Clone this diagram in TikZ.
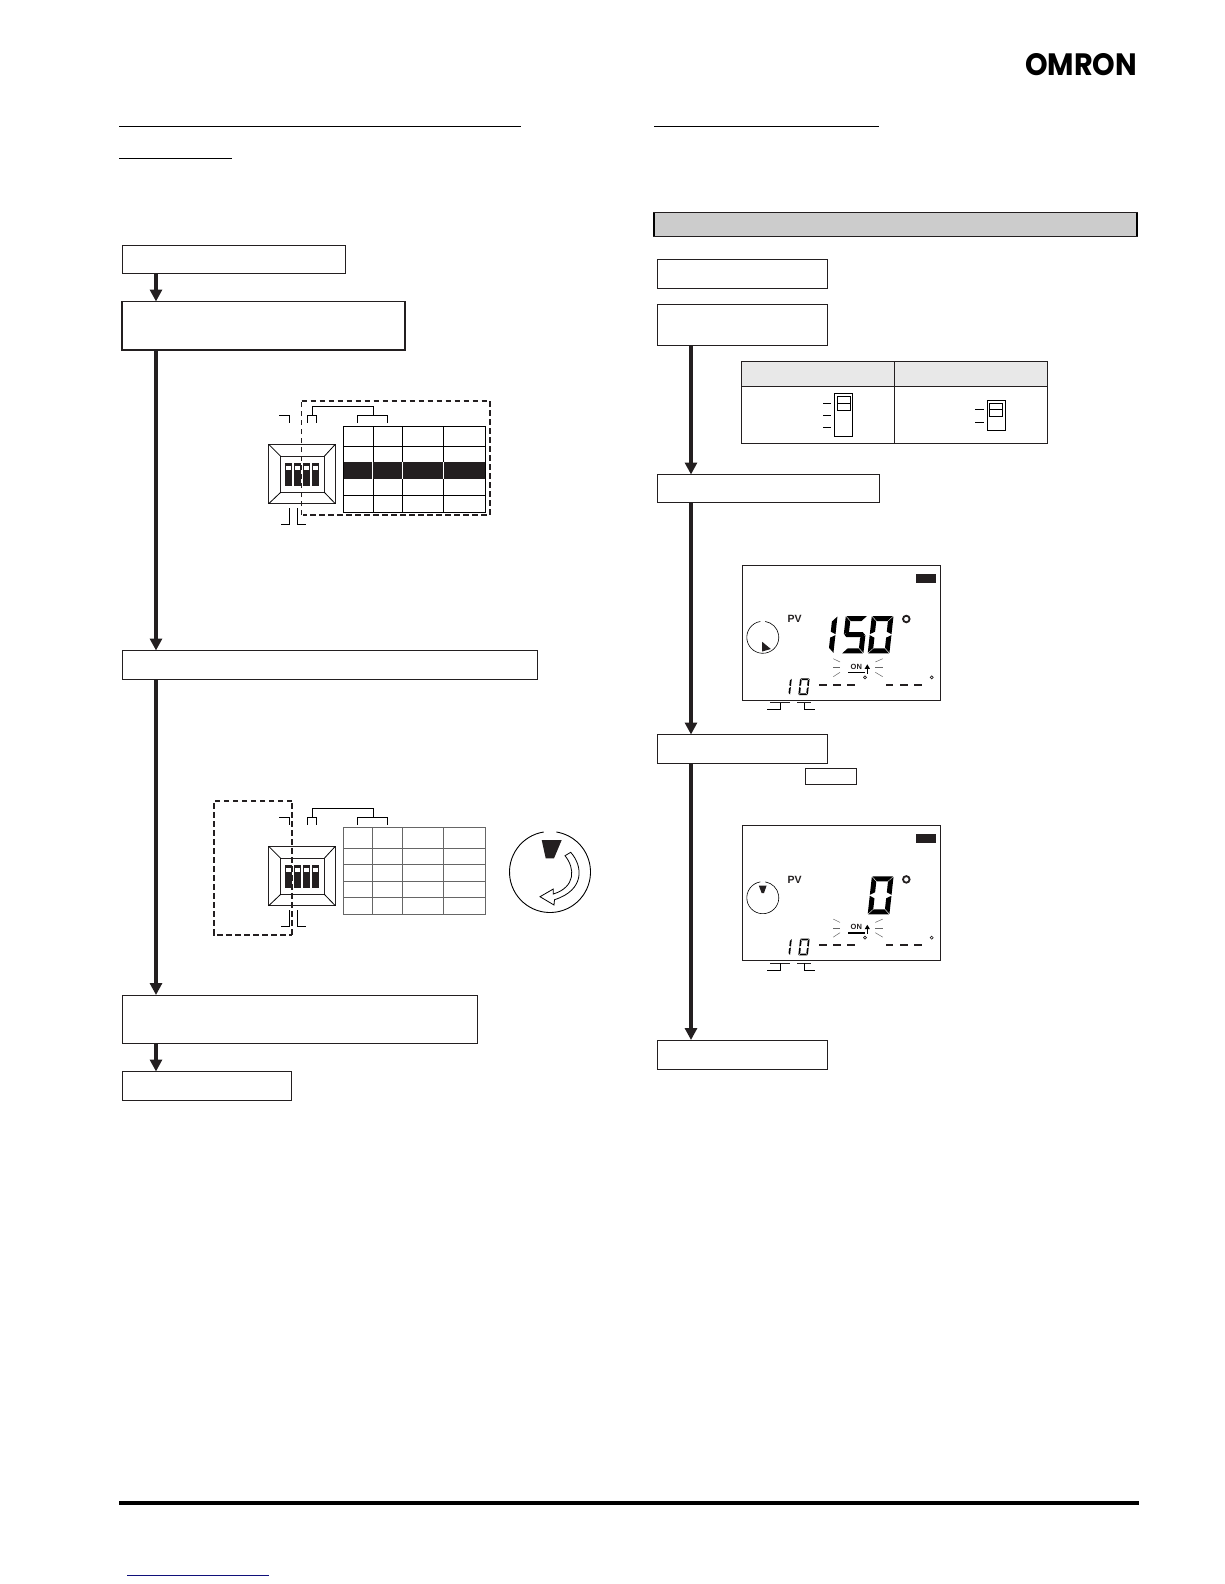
\documentclass[tikz,border=0pt]{standalone}
\usepackage{fontspec}
\setmainfont{Liberation Sans}
\newfontfamily\logofont{Poppins}
\usetikzlibrary{arrows.meta}
\definecolor{inkblack}{HTML}{231F20}
\definecolor{barfill}{HTML}{CCCCCC}
\definecolor{headfill}{HTML}{E8E8E8}
\definecolor{gridgray}{HTML}{666666}
\definecolor{linkblue}{HTML}{10107A}

% one slanted seven-segment digit: x, bottom y, width, height, thickness, segments
\newcommand{\lcdsega}{\fill (\lcdg,-\lcdh) -- (\lcdw-\lcdg,-\lcdh) -- (\lcdw-\lcdg-\lcdt,-\lcdh+\lcdt) -- (\lcdg+\lcdt,-\lcdh+\lcdt) -- cycle;}
\newcommand{\lcdsegb}{\fill (\lcdw,-\lcdh+\lcdg) -- (\lcdw,-\lcdm-\lcdg) -- (\lcdw-\lcdt,-\lcdm-\lcdg-\lcdt/2) -- (\lcdw-\lcdt,-\lcdh+\lcdg+\lcdt) -- cycle;}
\newcommand{\lcdsegc}{\fill (\lcdw,-\lcdg) -- (\lcdw,-\lcdm+\lcdg) -- (\lcdw-\lcdt,-\lcdm+\lcdg+\lcdt/2) -- (\lcdw-\lcdt,-\lcdg-\lcdt) -- cycle;}
\newcommand{\lcdsegd}{\fill (\lcdg,0) -- (\lcdw-\lcdg,0) -- (\lcdw-\lcdg-\lcdt,-\lcdt) -- (\lcdg+\lcdt,-\lcdt) -- cycle;}
\newcommand{\lcdsege}{\fill (0,-\lcdg) -- (0,-\lcdm+\lcdg) -- (\lcdt,-\lcdm+\lcdg+\lcdt/2) -- (\lcdt,-\lcdg-\lcdt) -- cycle;}
\newcommand{\lcdsegf}{\fill (0,-\lcdh+\lcdg) -- (0,-\lcdm-\lcdg) -- (\lcdt,-\lcdm-\lcdg-\lcdt/2) -- (\lcdt,-\lcdh+\lcdg+\lcdt) -- cycle;}
\newcommand{\lcdsegg}{\fill (\lcdg,-\lcdm) -- (\lcdg+\lcdt/2,-\lcdm-\lcdt/2) -- (\lcdw-\lcdg-\lcdt/2,-\lcdm-\lcdt/2) -- (\lcdw-\lcdg,-\lcdm) -- (\lcdw-\lcdg-\lcdt/2,-\lcdm+\lcdt/2) -- (\lcdg+\lcdt/2,-\lcdm+\lcdt/2) -- cycle;}
\newcommand{\lcddigit}[6]{%
  \begin{scope}[shift={(#1,#2)}, xslant=0.11]
    \def\lcdw{#3}\def\lcdh{#4}\def\lcdt{#5}\def\lcdg{0.5}
    \pgfmathsetmacro{\lcdm}{#4/2}
    \foreach \seg in {#6} {\csname lcdseg\seg\endcsname}
  \end{scope}}

\begin{document}
\begin{tikzpicture}[
  x=1pt, y=-1pt,
  stepbox/.style={rectangle, draw=inkblack, line width=1pt, inner sep=0pt, outer sep=0pt, anchor=north west},
  heavybox/.style={stepbox, line width=1.6pt},
  arrow/.style={-{Triangle[length=12pt,width=12pt]}, draw=inkblack, line width=4pt},
  rulebar/.style={draw=black, line width=1pt},
  lead/.style={draw=black, line width=0.8pt},
  dashframe/.style={draw=inkblack, line width=1.8pt, dash pattern=on 5.5pt off 3.5pt},
  thinframe/.style={draw=inkblack, line width=1pt, dash pattern=on 5.5pt off 3.5pt},
  grid/.style={draw=black, line width=0.8pt},
  panel/.style={draw=inkblack, line width=0.9pt},
  flash/.style={draw=gridgray, line width=0.5pt}
]
\useasboundingbox (0,0) rectangle (1224,1584);

% Logo and page rules
\node[inner sep=0pt, text=black] (logo) at (1081,65) {\resizebox{112pt}{22pt}{\logofont\bfseries OMRON}};
\draw[rulebar] (119,126.5) -- (521,126.5);
\draw[rulebar] (119,158.5) -- (232,158.5);
\draw[rulebar] (654,126.5) -- (879,126.5);
\draw[draw=black, line width=4pt] (119,1503) -- (1139,1503);
\draw[draw=linkblue, line width=1pt] (127,1575) -- (269,1575);

% Left column
\coordinate (spine_l) at (156,0);
\node[stepbox, minimum width=223.5pt, minimum height=28.5pt] (step_l1) at (122,245) {};
\node[heavybox, minimum width=283pt, minimum height=48.5pt] (step_l2) at (122,301.5) {};
\node[stepbox, minimum width=415pt, minimum height=29pt] (step_l3) at (122,650.5) {};
\node[stepbox, minimum width=355.5pt, minimum height=48pt] (step_l4) at (122,995) {};
\node[stepbox, minimum width=169pt, minimum height=28.5pt] (step_l5) at (122,1071.5) {};

\draw[arrow] (spine_l |- step_l1.south) -- (spine_l |- step_l2.north);
\draw[arrow] (spine_l |- step_l2.south) -- (spine_l |- step_l3.north);
\draw[arrow] (spine_l |- step_l3.south) -- (spine_l |- step_l4.north);
\draw[arrow] (spine_l |- step_l4.south) -- (spine_l |- step_l5.north);

% Right column
\coordinate (spine_r) at (691,0);
\node[stepbox, fill=barfill, minimum width=483.5pt, minimum height=23.5pt] (title_bar) at (653.5,212.5) {};
\draw[draw=black, line width=2pt] (title_bar.north west) -- (title_bar.south west);
\draw[draw=black, line width=2pt] (title_bar.north east) -- (title_bar.south east);
\node[stepbox, minimum width=170pt, minimum height=29pt] (step_r1) at (657,259.5) {};
\node[stepbox, minimum width=170pt, minimum height=41pt] (step_r2) at (657,304.5) {};
\node[stepbox, minimum width=222pt, minimum height=28pt] (step_r3) at (657,474.5) {};
\node[stepbox, minimum width=170pt, minimum height=29pt] (step_r4) at (657,734.5) {};
\node[stepbox, minimum width=170pt, minimum height=29pt] (step_r5) at (657,1040) {};
\node[stepbox, line width=0.9pt, minimum width=51.5pt, minimum height=16pt] (key_box) at (805,768) {};

\draw[arrow] (spine_r |- step_r2.south) -- (spine_r |- step_r3.north);
\draw[arrow] (spine_r |- step_r3.south) -- (spine_r |- step_r4.north);
\draw[arrow] (spine_r |- step_r4.south) -- (spine_r |- step_r5.north);

% Switch comparison table
\fill[headfill] (741.7,361.7) rectangle (1047,386);
\draw[panel] (741.7,361.7) rectangle (1047,443);
\draw[panel] (741.7,386) -- (1047,386);
\draw[panel] (894,361.7) -- (894,443);
\draw[draw=inkblack, line width=1.4pt] (741.7,361.7) -- (741.7,443);
\draw[lead] (834.3,393.3) rectangle (852.3,436.3);
\draw[lead] (837.3,396.7) rectangle (850.7,410.7);
\draw[lead] (837.3,403.3) -- (850.7,403.3);
\foreach \ty in {403.3,415.3,427.3} {\draw[lead] (823,\ty) -- (831,\ty);}
\draw[lead] (987.3,400.3) rectangle (1005.7,430.7);
\draw[lead] (989.3,403.3) rectangle (1002.7,416.7);
\draw[lead] (989.3,409.3) -- (1002.7,409.3);
\foreach \ty in {409.3,422.3} {\draw[lead] (975,\ty) -- (984.3,\ty);}

% DIP switches with their leads
\foreach \yo in {0,402} {
\begin{scope}[shift={(0,\yo)}]
  \draw[panel] (268.7,444.3) rectangle (335.3,503.7);
  \draw[panel] (280.7,456.3) rectangle (324.3,492.3);
  \draw[lead] (268.7,444.3) -- (280.7,456.3);
  \draw[lead] (335.3,444.3) -- (324.3,456.3);
  \draw[lead] (268.7,503.7) -- (280.7,492.3);
  \draw[lead] (335.3,503.7) -- (324.3,492.3);
  \foreach \sw in {285.3,294,303.3,312} {
    \fill[inkblack] (\sw,463) rectangle ++(6.8,23);
    \fill[white] (\sw+1,466) rectangle ++(4.8,4);
  }
  \draw[lead] (279.3,415.5) -- (289.7,415.5) -- (289.7,422.7);
  \draw[lead] (307.3,422.7) -- (307.3,415.5) -- (316.3,415.5) -- (316.3,422.7);
  \draw[lead] (312,415.5) -- (312,406.5) -- (373.5,406.5) -- (373.5,415.5);
  \draw[lead] (357.3,422.7) -- (357.3,415.5) -- (387.3,415.5) -- (387.3,422.7);
  \draw[lead] (289.5,508.3) -- (289.5,524.3) -- (281,524.3);
  \draw[lead] (297.3,508.3) -- (297.3,524.3) -- (305.7,524.3);
\end{scope}
}

% Upper table with dashed frame
\fill[inkblack] (343.7,462) rectangle (485.3,479.3);
\foreach \gx in {372.5,402.3,443.3} {\draw[draw=white, line width=0.6pt] (\gx,462) -- (\gx,479.3);}
\draw[grid] (343.7,426) rectangle (485.3,512.3);
\foreach \gy in {446.3,495.3} {\draw[grid] (343.7,\gy) -- (485.3,\gy);}
\foreach \gx in {373.3,402.3,443.3} {
  \draw[grid] (\gx,426) -- (\gx,462);
  \draw[grid] (\gx,479.3) -- (\gx,512.3);
}
\draw[thinframe] (301.7,515) -- (301.7,400.7);
\draw[dashframe] (301.7,400.7) -- (490,400.7) -- (490,515) -- (303,515);

% Lower table with dashed frame
\draw[draw=gridgray, line width=0.8pt] (343.3,827.7) rectangle (485.3,914);
\foreach \gy in {848.3,864.3,881,897.3} {\draw[draw=gridgray, line width=0.8pt] (343.3,\gy) -- (485.3,\gy);}
\foreach \gx in {372.7,402,443.7} {\draw[draw=gridgray, line width=0.8pt] (\gx,827.7) -- (\gx,914);}
\draw[dashframe] (292,800.7) -- (213.7,800.7) -- (213.7,934.7) -- (292,934.7);
\draw[thinframe, line width=1.4pt] (292,934.7) -- (292,800.7);

% Rotary dial
\draw[draw=black, line width=0.9pt] (550,872) ++(99:40.5pt) arc[start angle=99, end angle=441, radius=40.5pt];
\fill[inkblack] (541.7,840) -- (561.7,840) -- (554,858.3) -- (545.7,858.3) -- cycle;
\draw[draw=black, line width=0.8pt, fill=white] (565,855.7) -- (570.7,852.3)
  .. controls (583,866) and (585,890) .. (554.5,899.7)
  -- (554,905) -- (540,896.7) -- (553.3,889) -- (553.3,894)
  .. controls (576,887) and (575,868) .. (565,855.7) -- cycle;

% LCD panels, shared parts
\foreach \yo in {0,260.4} {
\begin{scope}[shift={(0,\yo)}]
  \draw[panel] (742.7,565.3) rectangle (940.7,700.3);
  \fill[inkblack] (916,574) rectangle (936,583);
  \node[inner sep=0pt, font=\bfseries\fontsize{10.5}{10.5}\selectfont, text=inkblack] (pv_label) at (794.7,619) {PV};
  \draw[draw=black, line width=0.6pt] (762.8,637.3) ++(99:16pt) arc[start angle=99, end angle=441, radius=16pt];
  \draw[draw=inkblack, line width=1.8pt] (906.3,619) circle[radius=3.3pt];
  \lcddigit{780.5}{695}{9.5}{16.7}{1.7}{b,c}
  \lcddigit{798.3}{695}{9.5}{16.7}{1.7}{a,b,c,d,e,f}
  % blinking ON mark
  \node[inner sep=0pt, font=\bfseries\fontsize{7.5}{7.5}\selectfont, text=inkblack] (on_label) at (856.3,667) {ON};
  \draw[draw=black, line width=1.3pt] (848,672.5) -- (864.7,672.5);
  \draw[draw=black, line width=1.2pt, -{Triangle[length=4.5pt,width=5pt]}] (867.3,673.5) -- (867.3,664.3);
  \draw[draw=inkblack, line width=0.7pt] (865,677.3) circle[radius=1.5pt];
  \draw[draw=inkblack, line width=0.7pt] (931.7,677.3) circle[radius=1.5pt];
  \foreach \fa/\fb in {658.7/662, 667.7/667.7, 676.7/672.3} {
    \draw[flash] (833.3,\fa) -- (840,\fb);
    \draw[flash] (882.7,\fa) -- (875.3,\fb);
  }
  \foreach \dx in {819.3,833.3,847.3,886,900.3,914.3} {
    \draw[draw=inkblack, line width=2pt] (\dx,685) -- ++(7.3,0);
  }
  \draw[draw=inkblack, line width=1.2pt] (770,702.7) -- (790,702.7);
  \draw[lead] (780,702.7) -- (780,709.7) -- (767,709.7);
  \draw[draw=inkblack, line width=1.2pt] (797,702.7) -- (811,702.7);
  \draw[lead] (804,702.7) -- (804,709.7) -- (815,709.7);
\end{scope}
}

% LCD values
\lcddigit{811.7}{653.3}{21.7}{37.3}{5}{b,c}
\lcddigit{841.7}{653.3}{21.7}{37.3}{5}{a,f,g,c,d}
\lcddigit{867.7}{653.3}{21.7}{37.3}{5}{a,b,c,d,e,f}
\lcddigit{867.7}{914.3}{21.7}{38}{5}{a,b,c,d,e,f}
\fill[inkblack] (762.2,641.8) -- (770.8,649) -- (762.2,651.5) -- cycle;
\fill[inkblack] (758.8,885.6) -- (766.6,885.6) -- (764,893) -- (761.6,893) -- cycle;

\end{tikzpicture}
\end{document}
